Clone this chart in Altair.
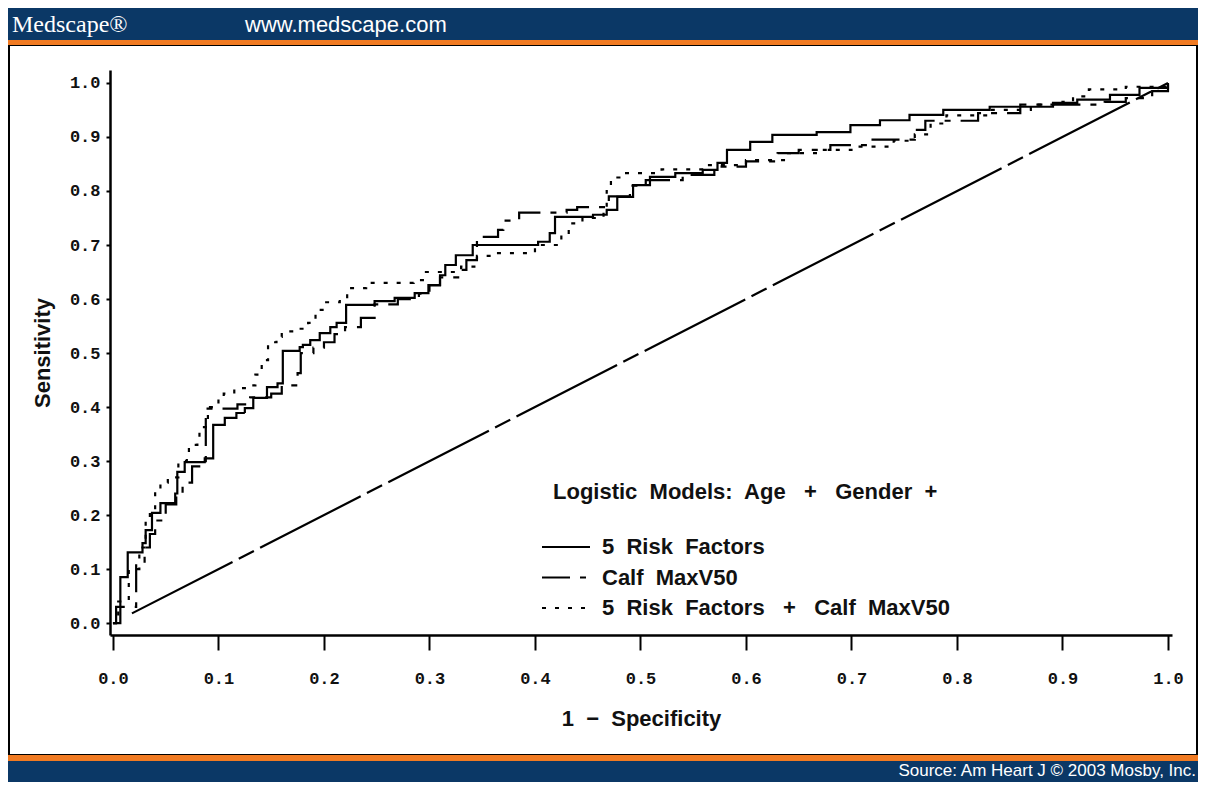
import altair as alt
import pandas as pd

# ---------------- text ----------------
HEADER_LEFT = "Medscape®"
HEADER_URL = "www.medscape.com"
FOOTER_SOURCE = "Source: Am Heart J © 2003 Mosby, Inc."
X_TITLE = "1 − Specificity"
Y_TITLE = "Sensitivity"
LEGEND_TITLE = "Logistic Models: Age + Gender +"
MODELS = ["5 Risk Factors", "Calf MaxV50", "5 Risk Factors + Calf MaxV50"]
TICKS = [0.0, 0.1, 0.2, 0.3, 0.4, 0.5, 0.6, 0.7, 0.8, 0.9, 1.0]

# ---------------- data (1 - specificity, sensitivity), step vertices ----------------
RF5_X = [0.000, 0.007, 0.014, 0.028, 0.031, 0.037, 0.045, 0.059, 0.061, 0.068, 0.087, 0.095,
         0.106, 0.117, 0.125, 0.133, 0.146, 0.156, 0.161, 0.177, 0.180, 0.187, 0.196, 0.206,
         0.212, 0.221, 0.248, 0.267, 0.286, 0.299, 0.310, 0.315, 0.325, 0.341, 0.403, 0.414,
         0.419, 0.455, 0.468, 0.478, 0.493, 0.509, 0.533, 0.559, 0.573, 0.582, 0.604, 0.625,
         0.667, 0.699, 0.727, 0.755, 0.787, 0.831, 0.891, 0.914, 0.945, 0.973, 1.000]
RF5_Y = [0.000, 0.085, 0.131, 0.148, 0.172, 0.204, 0.222, 0.240, 0.280, 0.298, 0.305, 0.367,
         0.380, 0.389, 0.398, 0.417, 0.437, 0.444, 0.504, 0.511, 0.515, 0.524, 0.537, 0.548,
         0.556, 0.589, 0.596, 0.602, 0.611, 0.626, 0.644, 0.663, 0.681, 0.700, 0.706, 0.722,
         0.752, 0.756, 0.765, 0.789, 0.811, 0.826, 0.833, 0.839, 0.852, 0.876, 0.891, 0.904,
         0.909, 0.922, 0.931, 0.941, 0.950, 0.956, 0.963, 0.969, 0.978, 0.991, 1.000]

CALF_X = [0.000, 0.003, 0.022, 0.030, 0.035, 0.040, 0.050, 0.060, 0.066, 0.075, 0.085, 0.088,
          0.118, 0.130, 0.150, 0.160, 0.175, 0.178, 0.190, 0.200, 0.210, 0.220, 0.235, 0.248,
          0.270, 0.290, 0.300, 0.310, 0.330, 0.335, 0.345, 0.365, 0.370, 0.385, 0.430, 0.440,
          0.470, 0.490, 0.505, 0.540, 0.570, 0.600, 0.630, 0.650, 0.680, 0.720, 0.760, 0.770,
          0.820, 0.860, 0.940, 0.960, 0.985, 1.000]
CALF_Y = [0.000, 0.030, 0.110, 0.140, 0.165, 0.190, 0.220, 0.235, 0.260, 0.290, 0.300, 0.397,
          0.405, 0.418, 0.425, 0.440, 0.463, 0.500, 0.510, 0.520, 0.535, 0.548, 0.565, 0.590,
          0.600, 0.610, 0.625, 0.640, 0.654, 0.672, 0.715, 0.728, 0.745, 0.760, 0.765, 0.770,
          0.790, 0.810, 0.820, 0.830, 0.845, 0.855, 0.870, 0.876, 0.885, 0.895, 0.913, 0.930,
          0.944, 0.960, 0.965, 0.972, 0.985, 1.000]

BOTH_X = [0.000, 0.005, 0.015, 0.025, 0.031, 0.035, 0.040, 0.045, 0.052, 0.062, 0.070, 0.072,
          0.080, 0.082, 0.090, 0.100, 0.105, 0.115, 0.125, 0.135, 0.141, 0.147, 0.155, 0.160,
          0.175, 0.185, 0.190, 0.192, 0.200, 0.215, 0.222, 0.240, 0.285, 0.295, 0.330, 0.345,
          0.360, 0.400, 0.425, 0.432, 0.445, 0.465, 0.468, 0.472, 0.480, 0.520, 0.560, 0.600,
          0.640, 0.670, 0.700, 0.740, 0.760, 0.775, 0.790, 0.830, 0.870, 0.900, 0.910, 0.925,
          0.960, 1.000]
BOTH_Y = [0.000, 0.040, 0.100, 0.140, 0.190, 0.205, 0.245, 0.260, 0.270, 0.300, 0.315, 0.330,
          0.344, 0.363, 0.400, 0.415, 0.425, 0.435, 0.440, 0.460, 0.487, 0.520, 0.530, 0.540,
          0.545, 0.556, 0.561, 0.580, 0.594, 0.600, 0.620, 0.630, 0.635, 0.650, 0.660, 0.680,
          0.685, 0.700, 0.718, 0.740, 0.750, 0.760, 0.800, 0.825, 0.833, 0.840, 0.848, 0.857,
          0.870, 0.876, 0.882, 0.893, 0.905, 0.925, 0.940, 0.950, 0.960, 0.965, 0.975, 0.988,
          0.993, 1.000]

DIAG_X = [0.018, 1.000]
DIAG_Y = [0.018, 1.000]

# ---------------- styles ----------------
NAVY = "#0b3866"
ORANGE = "#f07a22"
INK = "#111111"
DASHES = [[1, 0], [28, 10, 6, 10], [4, 9]]
DIAG_DASH = [113, 7, 17, 7]
SANS = "Liberation Sans"
W, H = 1062, 565


def wide(s):
    s = s.replace(" + ", "\u00a0\u00a0\u00a0+\u00a0\u00a0\u00a0")
    return s.replace(" ", "\u00a0 ")


rows = []
for name, xs, ys in [(MODELS[0], RF5_X, RF5_Y), (MODELS[1], CALF_X, CALF_Y), (MODELS[2], BOTH_X, BOTH_Y)]:
    for i, (a, b) in enumerate(zip(xs, ys)):
        rows.append({"model": name, "fpr": a, "tpr": b, "i": i})
curve_df = pd.DataFrame(rows)
diag_df = pd.DataFrame({"fpr": DIAG_X, "tpr": DIAG_Y, "i": [0, 1]})
one = pd.DataFrame({"k": [0]})

xenc = alt.X(
    "fpr:Q",
    title=wide(X_TITLE),
    scale=alt.Scale(domain=[-0.0028, 1.0038], nice=False, zero=False),
    axis=alt.Axis(values=TICKS, format=".1f", grid=False, domainColor="black", domainWidth=2.5,
                  tickColor="black", tickWidth=2, tickSize=15, labelFont="Liberation Mono",
                  labelFontWeight="bold", labelFontSize=17, labelColor=INK, labelPadding=20,
                  labelFlush=False, labelOverlap=False, titleFont=SANS, titleFontWeight="bold",
                  titleFontSize=22, titleColor=INK, titlePadding=22),
)
yenc = alt.Y(
    "tpr:Q",
    title=Y_TITLE,
    scale=alt.Scale(domain=[-0.022, 1.024], nice=False, zero=False),
    axis=alt.Axis(values=TICKS, format=".1f", grid=False, domainColor="black", domainWidth=2.5,
                  tickColor="black", tickWidth=2, tickSize=4, labelFont="Liberation Mono",
                  labelFontWeight="bold", labelFontSize=17, labelColor=INK, labelPadding=6,
                  labelOverlap=False, titleFont=SANS, titleFontWeight="bold", titleFontSize=22,
                  titleColor=INK, titlePadding=15),
)


def box(x, x2, y, y2, **kw):
    return alt.Chart(one).mark_rect(**kw).encode(
        x=alt.value(x), x2=alt.value(x2), y=alt.value(y), y2=alt.value(y2))


def label(txt, x, y, **kw):
    return alt.Chart(one).mark_text(baseline="middle", **kw).encode(
        x=alt.value(x), y=alt.value(y), text=alt.value(txt))


layers = [
    box(-101, 1087, -25, 685, fillOpacity=0, stroke="black", strokeWidth=2),
    box(-102, 1088, -62, -30, color=NAVY),
    box(-102, 1088, -30, -25, color=ORANGE),
    box(-102, 1088, 685, 691, color=ORANGE),
    box(-102, 1088, 691, 712, color=NAVY),
    label(HEADER_LEFT, -98, -45, align="left", font="Liberation Serif", fontSize=24, color="white"),
    label(HEADER_URL, 135, -45, align="left", font=SANS, fontSize=22, color="white"),
    label(FOOTER_SOURCE, 1086, 701, align="right", font=SANS, fontSize=17, color="white"),
    alt.Chart(diag_df).mark_line(color="black", strokeWidth=2.2, strokeDash=DIAG_DASH).encode(
        x=xenc, y=yenc, order="i:Q"),
    alt.Chart(curve_df).mark_line(interpolate="step-after", color="black", strokeWidth=2.2).encode(
        x=xenc, y=yenc,
        strokeDash=alt.StrokeDash("model:N", scale=alt.Scale(domain=MODELS, range=DASHES), legend=None),
        order="i:Q"),
    label(wide(LEGEND_TITLE), 443, 422, align="left", font=SANS, fontSize=22, fontWeight="bold", color=INK),
]
for k, name in enumerate(MODELS):
    yy = 477 + 30.5 * k
    layers.append(alt.Chart(one).mark_rule(color="black", strokeWidth=2.2, strokeDash=DASHES[k]).encode(
        x=alt.value(432), x2=alt.value(480), y=alt.value(yy)))
    layers.append(label(wide(name), 492, yy, align="left", font=SANS, fontSize=22, fontWeight="bold", color=INK))

chart = alt.layer(*layers).properties(
    width=W, height=H,
    autosize=alt.AutoSizeParams(type="none"),
    padding={"left": 102, "top": 62, "right": 26, "bottom": 147},
    background="white",
).configure_view(stroke=None)

chart.save("out.html", embed_options={"renderer": "svg", "actions": False})
